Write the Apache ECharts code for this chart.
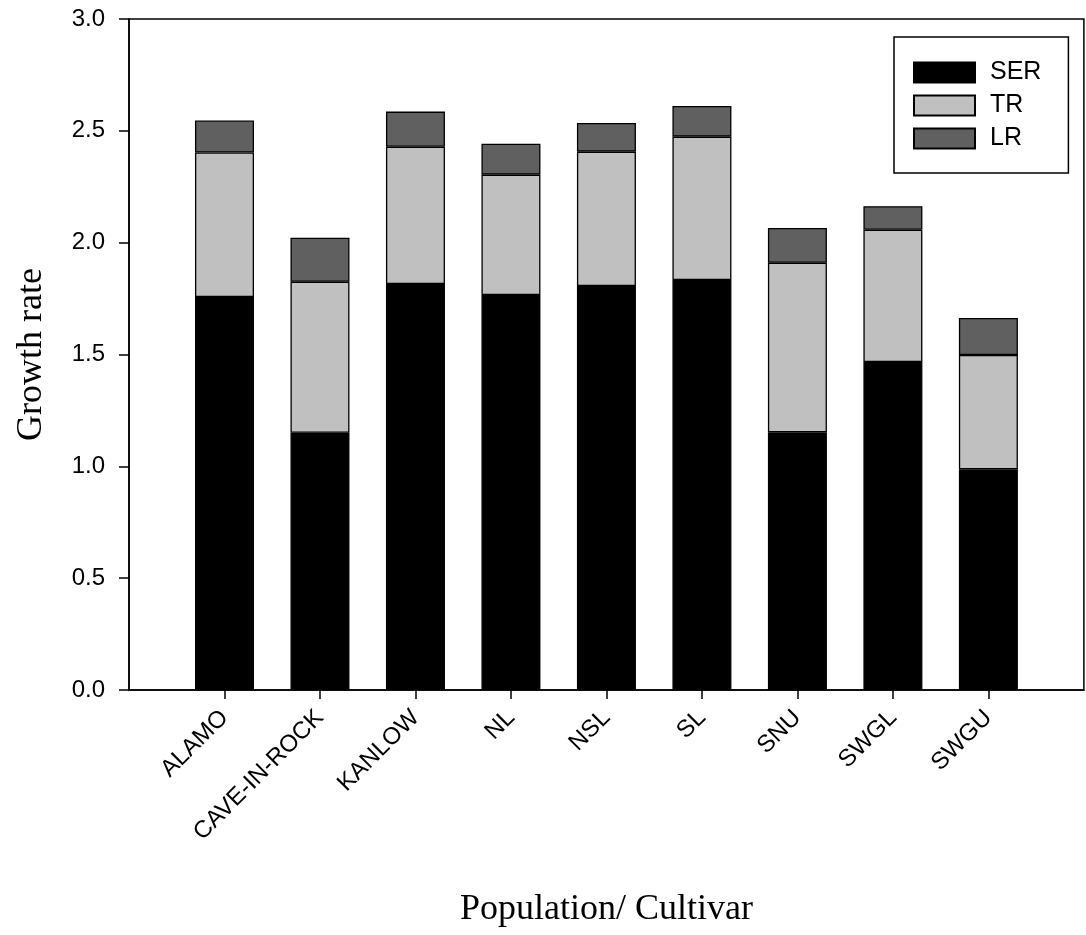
<!DOCTYPE html>
<html>
<head>
<meta charset="utf-8">
<title>Growth rate by population / cultivar</title>
<script src="https://cdn.jsdelivr.net/npm/echarts@6/dist/echarts.min.js"></script>
<style>
  html, body { margin: 0; padding: 0; background: #fff; }
  #chart { width: 1086px; height: 935px; }
</style>
</head>
<body>
<div id="chart"></div>
<script>
// Populations / cultivars along the x axis
const categories = ['ALAMO', 'CAVE-IN-ROCK', 'KANLOW', 'NL', 'NSL', 'SL', 'SNU', 'SWGL', 'SWGU'];

// Stacked growth-rate components
const serValues = [1.757, 1.150, 1.815, 1.766, 1.806, 1.833, 1.152, 1.466, 0.987];
const trValues  = [0.646, 0.675, 0.614, 0.538, 0.601, 0.641, 0.758, 0.592, 0.511];
const lrValues  = [0.143, 0.197, 0.157, 0.138, 0.128, 0.137, 0.156, 0.105, 0.165];

// Y axis ticks
const yTicks = { min: 0, max: 3, step: 0.5 };

const sans = '"Liberation Sans", Arial, sans-serif';
const serif = '"Liberation Serif", "Times New Roman", serif';

// Empty slots on both ends so the categories sit on points 1..9 of a 0..10 axis
const axisData = [''].concat(categories, ['']);
const pad = arr => [null].concat(arr, [null]);

const chart = echarts.init(document.getElementById('chart'), null, { renderer: 'canvas' });

function barSeries(name, values, color) {
  return {
    name: name,
    type: 'bar',
    stack: 'growth',
    barWidth: 59,
    data: pad(values),
    itemStyle: { color: color, borderColor: '#000', borderWidth: 1.3 },
    emphasis: { disabled: true }
  };
}

chart.setOption({
  animation: false,
  backgroundColor: '#fff',
  grid: {
    left: 129, top: 19, bottom: 245, right: -4,
    show: true, borderColor: '#000', borderWidth: 1.5, backgroundColor: 'transparent'
  },
  legend: {
    orient: 'vertical',
    left: 894, top: 37,
    itemWidth: 61, itemHeight: 20, itemGap: 8,
    padding: [23, 27, 22, 19],
    borderColor: '#000', borderWidth: 1.5,
    icon: 'rect',
    selectedMode: false,
    textStyle: { fontFamily: sans, fontSize: 25, color: '#000', padding: [0, 0, 0, 10] },
    data: ['SER', 'TR', 'LR']
  },
  xAxis: {
    type: 'category',
    data: axisData,
    boundaryGap: false,
    name: 'Population/ Cultivar',
    nameLocation: 'middle',
    nameGap: 202,
    nameTextStyle: { fontFamily: serif, fontSize: 36, color: '#000', verticalAlign: 'top' },
    axisLine: { lineStyle: { color: '#000', width: 1.5 } },
    axisTick: {
      length: 9,
      interval: (idx, val) => val !== '',
      lineStyle: { color: '#000', width: 1.5 }
    },
    axisLabel: {
      interval: 0,
      rotate: 45,
      margin: 24,
      fontFamily: sans, fontSize: 24, color: '#000'
    },
    splitLine: { show: false }
  },
  yAxis: {
    type: 'value',
    min: yTicks.min, max: yTicks.max, interval: yTicks.step,
    name: 'Growth rate',
    nameLocation: 'middle',
    nameGap: 79,
    nameTextStyle: { fontFamily: serif, fontSize: 36, color: '#000' },
    axisLine: { show: true, lineStyle: { color: '#000', width: 1.5 } },
    axisTick: { show: true, length: 10, lineStyle: { color: '#000', width: 1.5 } },
    axisLabel: {
      margin: 24,
      fontFamily: sans, fontSize: 24, color: '#000',
      formatter: v => v.toFixed(1)
    },
    splitLine: { show: false }
  },
  series: [
    barSeries('SER', serValues, '#000000'),
    barSeries('TR', trValues, '#c0c0c0'),
    barSeries('LR', lrValues, '#606060')
  ]
});
</script>
</body>
</html>
